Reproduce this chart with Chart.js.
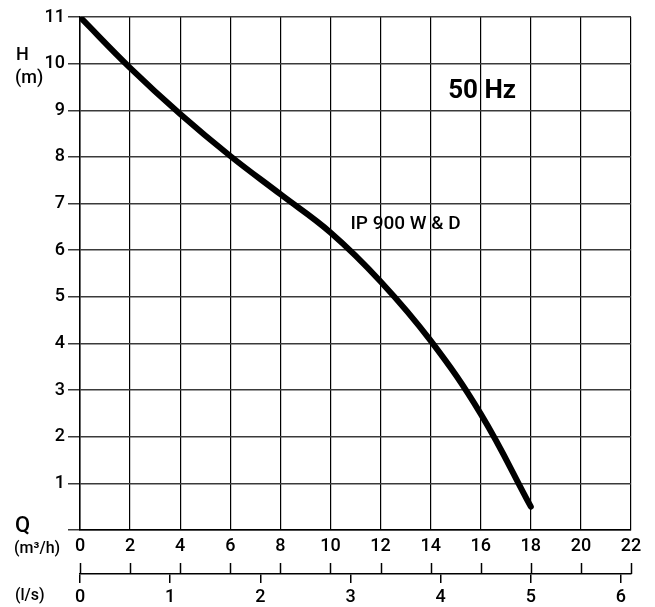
<!DOCTYPE html>
<html>
<head>
<meta charset="utf-8">
<script src="https://cdn.jsdelivr.net/npm/chart.js@4.4.1/dist/chart.umd.min.js"></script>
<style>
    html, body { margin: 0; padding: 0; background: #fff; }
    #wrap { width: 655px; height: 607px; }
</style>
</head>
<body>
<div id="wrap"><canvas id="curve"></canvas></div>
<script>
// Pump curve data
var flowM3h = [0, 2, 4, 6, 8, 10, 12, 14, 16, 18];
var headM = [11, 9.91, 8.92, 8.02, 7.2, 6.38, 5.33, 4.06, 2.49, 0.5];
var seriesLabel = 'IP 900 W & D';
var freqLabel = '50 Hz';

var FONT = 'Roboto, "DejaVu Sans", sans-serif';
var INK = '#000';

// Axis titles and extra ticks, drawn around the chart area
var extrasPlugin = {
    id: 'extras',
    afterDraw: function(chart) {
        var ctx = chart.ctx;
        var xs = chart.scales.x;
        var ys = chart.scales.y;
        ctx.save();
        ctx.fillStyle = INK;
        ctx.textBaseline = 'middle';
        ctx.textAlign = 'left';

        ctx.font = '500 18px ' + FONT;
        ctx.fillText('H', 16, 55);
        ctx.fillText('(m)', 15, 78);
        ctx.font = '500 22px ' + FONT;
        ctx.fillText('Q', 15, 526);
        ctx.font = '500 16px ' + FONT;
        ctx.fillText('(m\u00b3/h)', 14, 549);
        ctx.fillText('(l/s)', 15, 596);

        // labels inside the plot
        ctx.font = 'bold 26px ' + FONT;
        ctx.fillText(freqLabel, xs.getPixelForValue(14.7), ys.getPixelForValue(9.4));
        ctx.font = '500 19px ' + FONT;
        ctx.fillText(seriesLabel, xs.getPixelForValue(10.8), ys.getPixelForValue(6.55));

        // upward ticks on the l/s axis line at each m3/h step
        var lineY = chart.scales.x2.top;
        ctx.strokeStyle = INK;
        ctx.lineWidth = 1.5;
        for (var v = 0; v <= 22; v += 2) {
            var px = Math.round(xs.getPixelForValue(v)) + 0.5;
            ctx.beginPath();
            ctx.moveTo(px, lineY);
            ctx.lineTo(px, lineY - 11);
            ctx.stroke();
        }
        ctx.restore();
    }
};

new Chart(document.getElementById('curve'), {
    type: 'scatter',
    data: {
        datasets: [{
            label: seriesLabel,
            data: flowM3h.map(function(q, i) { return { x: q, y: headM[i] }; }),
            showLine: true,
            borderColor: INK,
            borderWidth: 6,
            borderCapStyle: 'round',
            borderJoinStyle: 'round',
            tension: 0.4,
            pointRadius: 0,
            fill: false
        }]
    },
    options: {
        responsive: true,
        maintainAspectRatio: false,
        animation: false,
        layout: { padding: { top: 17, right: 24, bottom: 0, left: 0 } },
        plugins: {
            legend: { display: false },
            tooltip: { enabled: false }
        },
        scales: {
            x: {
                type: 'linear',
                position: 'bottom',
                min: 0,
                max: 22,
                afterFit: function(s) { s.height = 44; },
                ticks: {
                    stepSize: 2,
                    padding: 6,
                    color: INK,
                    font: { family: FONT, size: 18, weight: '500' },
                    maxRotation: 0
                },
                grid: { color: INK, lineWidth: 1.2, drawTicks: false },
                border: { color: INK, width: 1.5 }
            },
            x2: {
                type: 'linear',
                position: 'bottom',
                min: 0,
                max: 22 / 3.6,
                afterFit: function(s) { s.height = 33; },
                afterBuildTicks: function(s) {
                    s.ticks = [0, 1, 2, 3, 4, 5, 6].map(function(v) { return { value: v }; });
                },
                ticks: {
                    padding: 4,
                    color: INK,
                    font: { family: FONT, size: 18, weight: '500' },
                    maxRotation: 0
                },
                grid: { color: INK, lineWidth: 1.5, drawOnChartArea: false, tickLength: 9 },
                border: { color: INK, width: 1.5 }
            },
            y: {
                type: 'linear',
                min: 0,
                max: 11,
                afterFit: function(s) { s.width = 80; },
                ticks: {
                    stepSize: 1,
                    padding: 3,
                    color: INK,
                    font: { family: FONT, size: 18, weight: '500' },
                    callback: function(v) { return v === 0 ? '' : v; }
                },
                grid: { color: '#3a3a3a', lineWidth: 1.5, tickLength: 12 },
                border: { color: INK, width: 1.5 }
            }
        }
    },
    plugins: [extrasPlugin]
});
</script>
</body>
</html>
